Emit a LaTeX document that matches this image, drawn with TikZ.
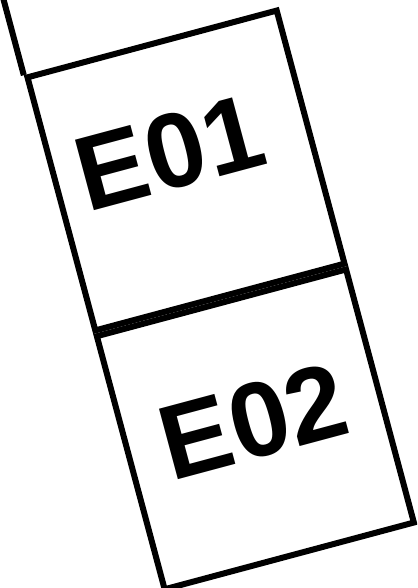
\documentclass[tikz,border=0pt]{standalone}
\usepackage{fontspec}
\setmainfont{Liberation Sans}
\usetikzlibrary{calc}

\tikzset{
  cell/.style={draw,line width=6pt,rotate=15,minimum width=258pt,minimum height=262pt,inner sep=0pt},
  tag/.style={rotate=15,inner sep=0pt,font=\fontsize{106}{110}\selectfont\bfseries}
}

\begin{document}
\begin{tikzpicture}[x=1pt,y=1pt]
\useasboundingbox (0,0) rectangle (417,588);
\clip (0,0) rectangle (417,588);
\node[cell] (e01) at (186,417.5) {};
\node[cell,anchor=north] (e02) at (e01.south) {};
\draw[line width=6pt] (e01.north west) -- ++(105:120);
\node[tag] (t01) at ($(e01.center)+(-16.5,18)$) {E01};
\node[tag] (t02) at ($(e02.center)+(-2,7.75)$) {E02};
\end{tikzpicture}
\end{document}
